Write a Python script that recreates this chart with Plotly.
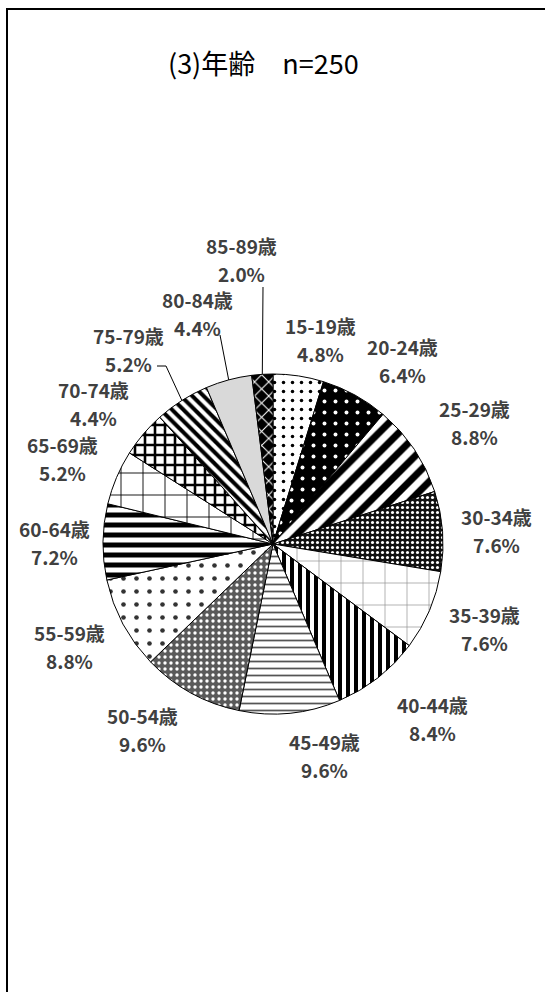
import math
import plotly.graph_objects as go

# ---------------- data ----------------
categories = ["15-19歳", "20-24歳", "25-29歳", "30-34歳", "35-39歳",
              "40-44歳", "45-49歳", "50-54歳", "55-59歳", "60-64歳",
              "65-69歳", "70-74歳", "75-79歳", "80-84歳", "85-89歳"]
percent = [4.8, 6.4, 8.8, 7.6, 7.6, 8.4, 9.6, 9.6, 8.8, 7.2, 5.2, 4.4, 5.2, 4.4, 2.0]
title_text = "(3)年齢\u3000n=250"

# ---------------- layout / style ----------------
W, H = 545, 992
CX, CY, R = 273, 544, 170          # pie centre and radius (pixels)
LABEL_COLOR = "#404040"
LABEL_FONT = "Noto Sans CJK JP"
LABEL_SIZE = 19
LINE_GAP = 28                      # distance between the two label lines

# (shape, fgcolor, bgcolor, size, solidity)
patterns = [
    (".", "#000000", "#ffffff", 9, 0.12),   # 15-19 white, dark dots
    (".", "#ffffff", "#000000", 11, 0.10),  # 20-24 black, white dots
    ("/", "#000000", "#ffffff", 14, 0.50),  # 25-29 wide diagonal stripes
    (".", "#ffffff", "#111111", 5, 0.30),   # 30-34 dark fine checker
    ("+", "#8c8c8c", "#ffffff", 22, 0.06),  # 35-39 dotted grid
    ("|", "#000000", "#ffffff", 8, 0.50),   # 40-44 vertical stripes
    ("-", "#555555", "#ffffff", 7, 0.25),   # 45-49 wavy lines
    (".", "#ffffff", "#5a5a5a", 6, 0.25),   # 50-54 grey fine checker
    (".", "#333333", "#ffffff", 13, 0.10),  # 55-59 scattered marks
    ("-", "#000000", "#ffffff", 10, 0.50),  # 60-64 horizontal stripes
    ("+", "#000000", "#ffffff", 22, 0.08),  # 65-69 grid
    ("+", "#000000", "#ffffff", 10, 0.45),  # 70-74 checkerboard
    ("\\", "#000000", "#ffffff", 8, 0.50),  # 75-79 thin diagonal stripes
    ("", "#d9d9d9", "#d9d9d9", 8, 0.30),    # 80-84 light grey
    ("x", "#ffffff", "#000000", 10, 0.20),  # 85-89 black lattice
]

# labels that the original chart pulled away from their slices:
# centre offset from pie centre (px) and leader-line points relative to the label centre
label_overrides = {
    "85-89歳": dict(dx=-32, dy=-285, line=[(22, 28)]),
    "80-84歳": dict(dx=-76, dy=-231, line=[(23, 22)]),
    "75-79歳": dict(dx=-145, dy=-195, line=[(38, 17), (29, 17)]),
}
# small nudges (px) of the automatically placed labels, as in the original layout
label_nudges = {
    "15-19歳": (15, 7), "20-24歳": (25, 7), "25-29歳": (9, 7), "30-34歳": (0, 3),
    "35-39歳": (2, -4), "40-44歳": (23, 1), "45-49歳": (30, -2), "50-54歳": (-26, -5),
    "55-59歳": (-2, -5), "60-64歳": (5, 1), "65-69歳": (-2, 3), "70-74歳": (-6, 7),
}
BOX_HALF_W, BOX_HALF_H, GAP = 36, 26, 18

fig = go.Figure()

fig.add_trace(go.Pie(
    labels=categories,
    values=percent,
    sort=False,
    direction="clockwise",
    rotation=0,
    textinfo="none",
    hoverinfo="label+percent",
    showlegend=False,
    domain=dict(x=[(CX - R) / W, (CX + R) / W], y=[1 - (CY + R) / H, 1 - (CY - R) / H]),
    marker=dict(
        colors=[p[2] for p in patterns],
        line=dict(color="#000000", width=1),
        pattern=dict(
            shape=[p[0] for p in patterns],
            fgcolor=[p[1] for p in patterns],
            bgcolor=[p[2] for p in patterns],
            size=[p[3] for p in patterns],
            solidity=[p[4] for p in patterns],
            fillmode="replace",
        ),
    ),
))

# pixel coordinate system over the whole figure
fig.update_xaxes(range=[0, W], visible=False, fixedrange=True, domain=[0, 1])
fig.update_yaxes(range=[H, 0], visible=False, fixedrange=True, domain=[0, 1])
fig.add_trace(go.Scatter(x=[0], y=[0], mode="markers", marker=dict(opacity=0),
                         hoverinfo="skip", showlegend=False))

annotations = []
shapes = []
total = sum(percent)
cum = 0.0
for cat, v in zip(categories, percent):
    mid = (cum + v / 2) / total * 2 * math.pi
    cum += v
    s, c = math.sin(mid), math.cos(mid)
    if cat in label_overrides:
        o = label_overrides[cat]
        lx, ly = CX + o["dx"], CY + o["dy"]
        ex, ey = CX + R * s, CY - R * c
        pts = [(ex, ey)] + [(lx + px, ly + py) for px, py in o["line"]]
        path = "M " + " L ".join(f"{x:.1f},{y:.1f}" for x, y in pts)
        shapes.append(dict(type="path", xref="x", yref="y", path=path,
                           line=dict(color="#000000", width=1)))
    else:
        ext = min(BOX_HALF_W / max(abs(s), 1e-6), BOX_HALF_H / max(abs(c), 1e-6))
        d = R + GAP + ext
        nx, ny = label_nudges.get(cat, (0, 0))
        lx, ly = CX + d * s + nx, CY - d * c + ny
    for k, line_text in enumerate([cat, f"{v / total * 100:.1f}%"]):
        annotations.append(dict(
            x=lx, y=ly + (k - 0.5) * LINE_GAP, xref="x", yref="y", text=line_text,
            showarrow=False, xanchor="center", yanchor="middle",
            font=dict(family=LABEL_FONT, size=LABEL_SIZE, color=LABEL_COLOR, weight="bold"),
        ))

annotations.append(dict(
    x=263, y=62, xref="x", yref="y", text=title_text, showarrow=False,
    xanchor="center", yanchor="middle",
    font=dict(family=LABEL_FONT, size=27, color="#000000"),
))

# outer frame (runs off the right and bottom edges)
shapes.append(dict(type="rect", xref="x", yref="y", x0=7, y0=9, x1=W + 40, y1=H + 40,
                   line=dict(color="#000000", width=2), fillcolor="rgba(0,0,0,0)",
                   layer="below"))

fig.update_layout(
    width=W, height=H,
    margin=dict(l=0, r=0, t=0, b=0),
    paper_bgcolor="#ffffff", plot_bgcolor="#ffffff",
    annotations=annotations, shapes=shapes,
    showlegend=False,
)

fig.write_html("out.html",
               config={"displayModeBar": False},
               post_script="document.body.style.margin='0';document.body.style.padding='0';")
